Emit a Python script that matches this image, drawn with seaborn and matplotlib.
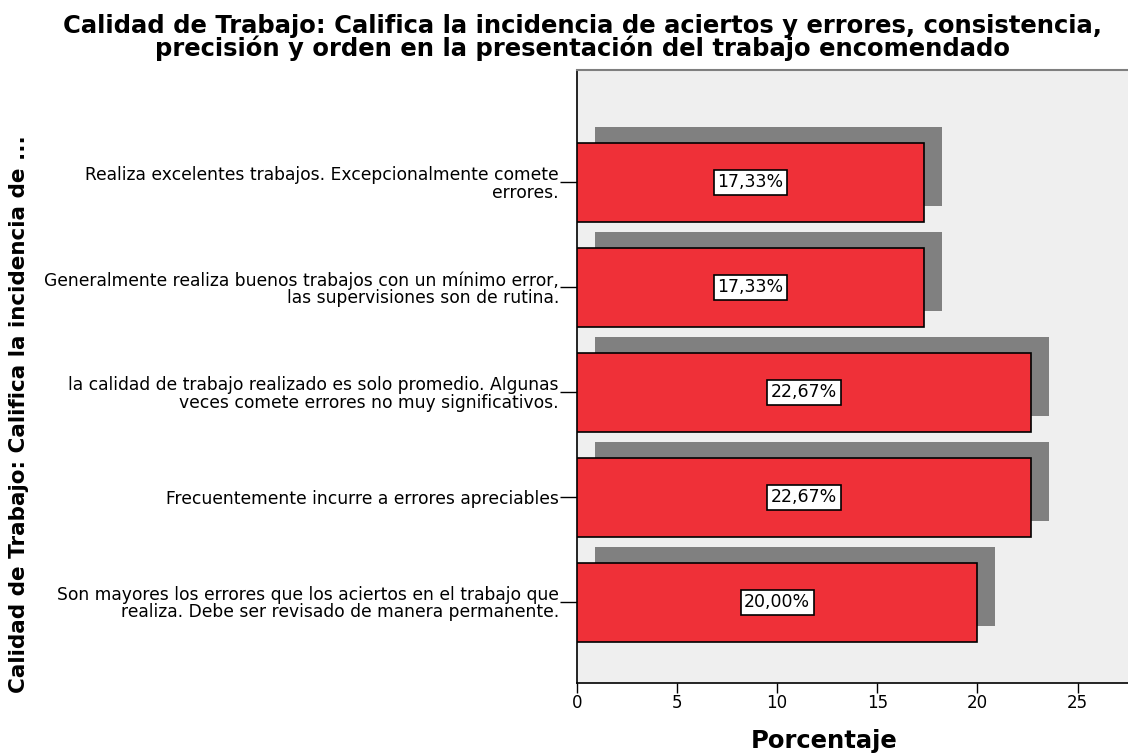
import matplotlib
matplotlib.use("Agg")
import matplotlib.pyplot as plt
import seaborn as sns
import pandas as pd

# datos (orden de arriba hacia abajo)
categorias = [
    "Realiza excelentes trabajos. Excepcionalmente comete\nerrores.",
    "Generalmente realiza buenos trabajos con un mínimo error,\nlas supervisiones son de rutina.",
    "la calidad de trabajo realizado es solo promedio. Algunas\nveces comete errores no muy significativos.",
    "Frecuentemente incurre a errores apreciables",
    "Son mayores los errores que los aciertos en el trabajo que\nrealiza. Debe ser revisado de manera permanente.",
]
porcentajes = [17.33, 17.33, 22.67, 22.67, 20.00]
etiquetas = ["17,33%", "17,33%", "22,67%", "22,67%", "20,00%"]

titulo = ("Calidad de Trabajo: Califica la incidencia de aciertos y errores, consistencia,\n"
          "precisión y orden en la presentación del trabajo encomendado")

df = pd.DataFrame({"cat": categorias, "pct": porcentajes})

sns.set_style("white")
plt.rcParams["font.family"] = ["DejaVu Sans"]
plt.rcParams["text.color"] = "black"
plt.rcParams["axes.labelcolor"] = "black"
plt.rcParams["xtick.color"] = "black"
plt.rcParams["ytick.color"] = "black"

fig = plt.figure(figsize=(11.28, 7.53), dpi=100)
ax = fig.add_axes([0.5115, 0.093, 0.489, 0.814])
ax.set_facecolor("#efefef")

ancho = 0.75
# barras rojas con borde negro
sns.barplot(data=df, x="pct", y="cat", orient="h", color="#ef3038", saturation=1,
            width=ancho, edgecolor="black", linewidth=1.2, ax=ax, zorder=3)

# sombra gris desplazada (arriba y a la derecha)
pos = range(len(porcentajes))
ax.barh([p - 0.15 for p in pos], porcentajes, height=ancho, left=0.9,
        color="#808080", linewidth=0, zorder=2)

# etiquetas de valor en cajas blancas
for p, v, t in zip(pos, porcentajes, etiquetas):
    ax.text(v / 2, p, t, ha="center", va="center", fontsize=12.5, zorder=5,
            bbox=dict(boxstyle="square,pad=0.2", fc="white", ec="black", lw=1.2))

ax.set_xlim(0, 27.55)
ax.set_ylim(4.77, -1.07)
ax.set_xticks([0, 5, 10, 15, 20, 25])

for s in ["left", "bottom"]:
    ax.spines[s].set_color("black")
    ax.spines[s].set_linewidth(1.2)
ax.spines["top"].set_color("#7f7f7f")
ax.spines["top"].set_linewidth(1.5)
ax.spines["right"].set_visible(False)

ax.tick_params(axis="x", bottom=True, length=7, width=1, labelsize=12, pad=1)
ax.tick_params(axis="y", left=True, length=12, width=1, labelsize=12.3, pad=1)
for lbl in ax.get_yticklabels():
    lbl.set_multialignment("right")
    lbl.set_linespacing(0.95)

ax.set_xlabel("Porcentaje", fontsize=17.5, fontweight="bold", color="black", labelpad=12)
ax.xaxis.set_label_coords(0.448, -0.075)
ax.set_ylabel("")
fig.text(0.017, 0.45, "Calidad de Trabajo: Califica la incidencia de ...",
         rotation=90, ha="center", va="center", fontsize=15.5, fontweight="bold")

fig.suptitle(titulo, x=0.516, y=0.982, fontsize=17.5, fontweight="bold", linespacing=0.9)

fig.savefig("out.png", dpi=100)
